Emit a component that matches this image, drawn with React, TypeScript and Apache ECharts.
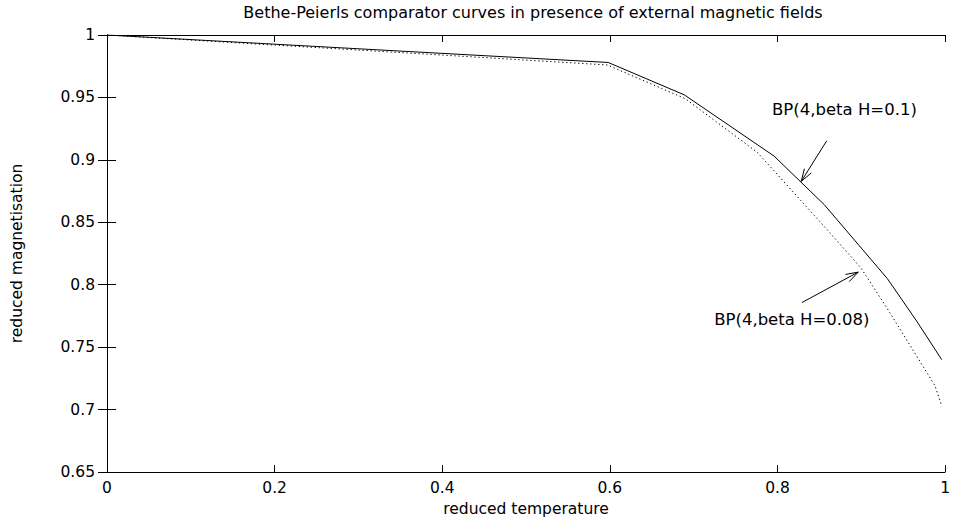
import React, { useEffect, useRef } from "react";
import * as echarts from "echarts";

// Data
const solidX = [0, 0.598, 0.689, 0.796, 0.856, 0.931, 0.966, 0.996];
const solidY = [1, 0.978, 0.952, 0.903, 0.864, 0.805, 0.771, 0.74];
const dottedX = [0, 0.597, 0.69, 0.776, 0.85, 0.899, 0.93, 0.966, 0.988, 0.996];
const dottedY = [1, 0.976, 0.949, 0.906, 0.851, 0.814, 0.782, 0.743, 0.719, 0.703];

const xTicks = { min: 0, max: 1, interval: 0.2 };
const yTicks = { min: 0.65, max: 1, interval: 0.05 };

const arrowTails = [[0.8588, 0.9153], [0.8292, 0.7857]];
const arrowTips = [[0.8284, 0.8828], [0.8964, 0.8101]];
const annotationTexts = ["BP(4,beta H=0.1)", "BP(4,beta H=0.08)"];
const annotationAnchors = [[0.7935, 0.94], [0.7245, 0.7718]];

const titleText = "Bethe-Peierls comparator curves in presence of external magnetic fields";
const xName = "reduced temperature";
const yName = "reduced magnetisation";

const FONT = "DejaVu Sans";

export default function App() {
  const ref = useRef<HTMLDivElement>(null);
  useEffect(() => {
    if (!ref.current) return;
    const chart = echarts.init(ref.current, null, { renderer: "svg" });
    const solid = solidX.map((x, i) => [x, solidY[i]]);
    const dotted = dottedX.map((x, i) => [x, dottedY[i]]);
    const annData = arrowTails.map((t, i) => [
      t[0], t[1], arrowTips[i][0], arrowTips[i][1], annotationAnchors[i][0], annotationAnchors[i][1],
    ]);
    const tickLabel = { color: "#000", fontFamily: FONT, fontSize: 15.5 };
    chart.setOption({
      animation: false,
      backgroundColor: "#fff",
      title: {
        text: titleText,
        left: 528,
        textAlign: "center",
        top: -1,
        textStyle: { fontFamily: FONT, fontSize: 16, fontWeight: "normal", color: "#000" },
      },
      grid: { left: 107, right: 3, top: 35, bottom: 49 },
      xAxis: [
        {
          type: "value",
          min: xTicks.min,
          max: xTicks.max,
          interval: xTicks.interval,
          name: xName,
          nameLocation: "middle",
          nameGap: 29,
          nameTextStyle: { color: "#000", fontFamily: FONT, fontSize: 15.5 },
          axisLine: { show: true, lineStyle: { color: "#000", width: 1 } },
          axisTick: { show: true, inside: true, length: 7, lineStyle: { color: "#000" } },
          axisLabel: { ...tickLabel, margin: 8 },
          splitLine: { show: false },
        },
        {
          type: "value",
          position: "top",
          min: xTicks.min,
          max: xTicks.max,
          interval: xTicks.interval,
          axisLine: { show: true, lineStyle: { color: "#000", width: 1 } },
          axisTick: { show: true, inside: true, length: 7, lineStyle: { color: "#000" } },
          axisLabel: { show: false },
          splitLine: { show: false },
        },
      ],
      yAxis: [
        {
          type: "value",
          min: yTicks.min,
          max: yTicks.max,
          interval: yTicks.interval,
          name: yName,
          nameLocation: "middle",
          nameGap: 82,
          nameTextStyle: { color: "#000", fontFamily: FONT, fontSize: 15.5 },
          axisLine: { show: true, lineStyle: { color: "#000", width: 1 } },
          axisTick: { show: true, inside: true, length: 9, lineStyle: { color: "#000" } },
          axisLabel: { ...tickLabel, margin: 12 },
          splitLine: { show: false },
        },
        {
          type: "value",
          position: "right",
          min: yTicks.min,
          max: yTicks.max,
          interval: yTicks.interval,
          axisLine: { show: true, lineStyle: { color: "#000", width: 1 } },
          axisTick: { show: true, inside: true, length: 9, lineStyle: { color: "#000" } },
          axisLabel: { show: false },
          splitLine: { show: false },
        },
      ],
      series: [
        {
          name: "BP(4,beta H=0.1)",
          type: "line",
          data: solid,
          symbol: "none",
          lineStyle: { color: "#000", width: 1 },
        },
        {
          name: "BP(4,beta H=0.08)",
          type: "line",
          data: dotted,
          symbol: "none",
          lineStyle: { color: "#000", width: 1, type: [1.3, 2.7] },
        },
        {
          type: "custom",
          data: annData,
          clip: false,
          renderItem: (params: any, api: any) => {
            const i = params.dataIndex;
            const tail = api.coord([api.value(0), api.value(1)]);
            const tip = api.coord([api.value(2), api.value(3)]);
            const lab = api.coord([api.value(4), api.value(5)]);
            const dx = tail[0] - tip[0];
            const dy = tail[1] - tip[1];
            const len = Math.sqrt(dx * dx + dy * dy);
            const ux = dx / len;
            const uy = dy / len;
            const headLen = 13;
            const ang = (18 * Math.PI) / 180;
            const rot = (a: number) => [
              ux * Math.cos(a) - uy * Math.sin(a),
              ux * Math.sin(a) + uy * Math.cos(a),
            ];
            const b1 = rot(ang);
            const b2 = rot(-ang);
            const ls = { stroke: "#000", lineWidth: 1 };
            return {
              type: "group",
              children: [
                { type: "line", shape: { x1: tail[0], y1: tail[1], x2: tip[0], y2: tip[1] }, style: ls },
                {
                  type: "line",
                  shape: { x1: tip[0], y1: tip[1], x2: tip[0] + b1[0] * headLen, y2: tip[1] + b1[1] * headLen },
                  style: ls,
                },
                {
                  type: "line",
                  shape: { x1: tip[0], y1: tip[1], x2: tip[0] + b2[0] * headLen, y2: tip[1] + b2[1] * headLen },
                  style: ls,
                },
                {
                  type: "text",
                  x: lab[0],
                  y: lab[1],
                  style: {
                    text: annotationTexts[i],
                    fill: "#000",
                    fontFamily: FONT,
                    fontSize: 16.5,
                    align: "left",
                    verticalAlign: "middle",
                  },
                },
              ],
            };
          },
        },
      ],
    });
    return () => chart.dispose();
  }, []);
  return (
    <div
      ref={ref}
      style={{ position: "fixed", left: 0, top: 0, width: 953, height: 522, background: "#fff" }}
    />
  );
}
